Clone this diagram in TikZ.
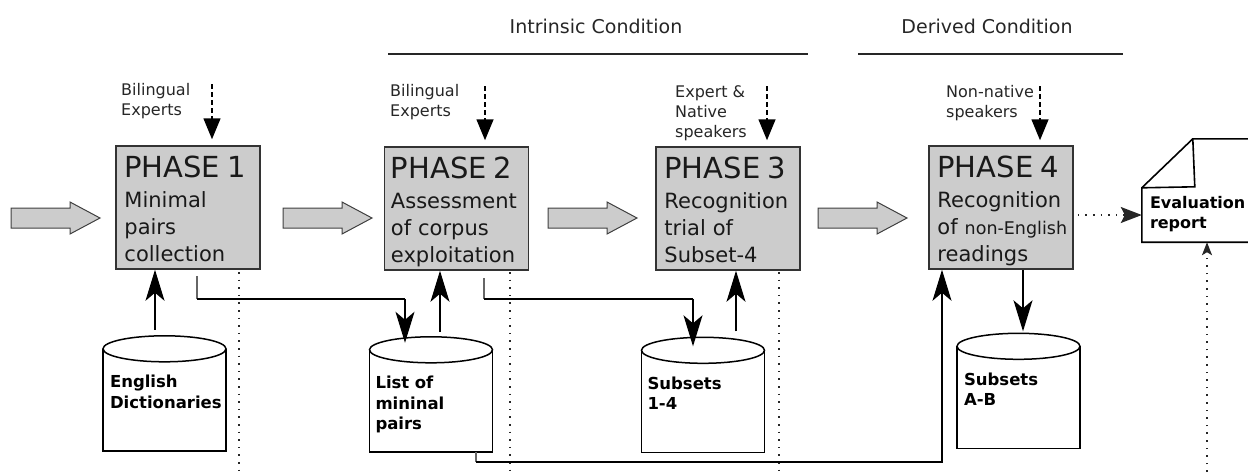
\documentclass[tikz,border=0pt]{standalone}
\usepackage{fontspec}
\setmainfont{DejaVu Sans}
\usetikzlibrary{arrows.meta,positioning}

\tikzset{
  phasebox/.style={draw=black!80, fill=black!20, line width=1.5pt,
    minimum width=144pt, minimum height=123pt, inner sep=0pt},
  phasetext/.style={anchor=north west, inner sep=0pt, align=left, text width=134pt,
    font=\fontsize{21}{27}\selectfont, text=black!90},
  who/.style={anchor=north west, inner sep=0pt, align=left,
    font=\fontsize{16}{20}\selectfont, text=black!85},
  cond/.style={anchor=base, inner sep=0pt, font=\fontsize{19}{22}\selectfont, text=black!85},
  rule/.style={draw=black!85, line width=1.5pt},
  dbbody/.style={minimum width=123pt, minimum height=102pt, inner sep=0pt},
  dbline/.style={draw=black, line width=1.5pt},
  dbtext/.style={anchor=north west, inner sep=0pt, align=left, text width=118pt,
    font=\fontsize{16.5}{20.5}\selectfont\bfseries},
  blockarrow/.style={draw=black!75, fill=black!20, line width=1pt},
  arr/.style={draw=black, line width=1.5pt, -{Stealth[length=31pt,width=19pt,inset=8pt]}},
  dasharr/.style={draw=black, line width=1.5pt, dash pattern=on 5pt off 3pt,
    -{Stealth[length=21pt,width=17pt,inset=0pt]}},
  dotline/.style={draw=black!85, line width=1.6pt, dash pattern=on 1.6pt off 6pt},
  stub/.style={draw=black!60, line width=1.3pt},
  thickline/.style={draw=black, line width=2.4pt},
  docline/.style={draw=black, line width=1.6pt},
}
\newcommand{\phasehead}[1]{{\fontsize{29}{30}\selectfont #1}}

\begin{document}
\begin{tikzpicture}[x=1pt,y=-1pt]
\useasboundingbox (0,0) rectangle (1248,472);

% conditions on top
\node[cond] (intr) at (596,33) {Intrinsic Condition};
\node[cond] (deriv) at (987,33) {Derived Condition};
\draw[rule] (388,54) -- (808,54);
\draw[rule] (858,54) -- (1123,54);

% block arrows between phases
\foreach \x in {11,283,548,818} {
  \draw[blockarrow] (\x,208) -- ++(59,0) -- ++(0,-6) -- ++(30,16) -- ++(-30,16)
    -- ++(0,-6) -- ++(-59,0) -- cycle;
}

% vertical dotted separators
\foreach \x in {239,510,779} {
  \draw[dotline] (\x,272) -- (\x,472);
}

% phases
\node[phasebox] (p1) at (188,207.5) {};
\node[phasebox] (p2) at (456.5,208.5) {};
\node[phasebox] (p3) at (728,208.5) {};
\node[phasebox] (p4) at (1001,207.5) {};
\node[phasetext] (p1t) at ([xshift=9pt,yshift=-11pt]p1.north west)
  {\phasehead{PHASE 1}\\[3pt]Minimal\\pairs\\collection};
\node[phasetext] (p2t) at ([xshift=7pt,yshift=-11pt]p2.north west)
  {\phasehead{PHASE 2}\\[3pt]Assessment\\of corpus\\exploitation};
\node[phasetext] (p3t) at ([xshift=9pt,yshift=-11pt]p3.north west)
  {\phasehead{PHASE 3}\\[3pt]Recognition\\trial of\\Subset-4};
\node[phasetext] (p4t) at ([xshift=9pt,yshift=-11pt]p4.north west)
  {\phasehead{PHASE 4}\\[3pt]Recognition\\of {\fontsize{17.5}{27}\selectfont non-English}\\readings};

% who takes part
\node[who] (w1) at (121,83) {Bilingual\\Experts};
\node[who] (w2) at (390,84) {Bilingual\\Experts};
\node[who] (w3) at (675,85) {Expert \&\\Native\\speakers};
\node[who] (w4) at (946,85) {Non-native\\speakers};
\draw[dasharr] ([xshift=24pt,yshift=61pt]p1.north) -- ([xshift=24pt,yshift=6pt]p1.north);
\draw[dasharr] ([xshift=28.5pt,yshift=60pt]p2.north) -- ([xshift=28.5pt,yshift=6pt]p2.north);
\draw[dasharr] ([xshift=39pt,yshift=60pt]p3.north) -- ([xshift=39pt,yshift=6pt]p3.north);
\draw[dasharr] ([xshift=39pt,yshift=59pt]p4.north) -- ([xshift=39pt,yshift=5pt]p4.north);

% data stores
\node[dbbody] (dict) at (164.5,400) {};
\node[dbbody] (list) at (431,401) {};
\node[dbbody] (subs) at (703,401.5) {};
\node[dbbody] (subab) at (1018.5,397.5) {};
\foreach \n in {dict,list,subs,subab} {
  \draw[dbline] (\n.north west) -- (\n.south west) -- (\n.south east) -- (\n.north east);
  \draw[dbline, fill=white] (\n.north) ellipse [x radius=61.5pt, y radius=13pt];
}
\node[dbtext] (dictt) at ([xshift=7pt,yshift=-26pt]dict.north west) {English\\Dictionaries};
\node[dbtext] (listt) at ([xshift=6pt,yshift=-26pt]list.north west) {List of\\mininal\\pairs};
\node[dbtext] (subst) at ([xshift=6pt,yshift=-26pt]subs.north west) {Subsets\\1-4};
\node[dbtext] (subabt) at ([xshift=7pt,yshift=-26pt]subab.north west) {Subsets\\A-B};

% evaluation report
\node[minimum width=120pt, minimum height=103pt, inner sep=0pt] (report) at (1202,190.5) {};
\draw[docline, fill=white] (report.south east) -- (report.south west)
  -- ([yshift=-49pt]report.north west) -- ([xshift=51pt]report.north west)
  -- (report.north east);
\draw[docline] ([xshift=51pt]report.north west) -- ([xshift=53pt,yshift=-48pt]report.north west)
  -- ([yshift=-49pt]report.north west);
\node[dbtext, text width=96pt, font=\fontsize{16}{20}\selectfont\bfseries] (rept) at ([xshift=8pt,yshift=-57pt]report.north west)
  {Evaluation\\report};

% data flow
\draw[arr] ([xshift=-9.5pt,yshift=19pt]dict.north) coordinate (d1) -- (d1 |- p1.south);
\draw[stub] ([xshift=9pt,yshift=-6pt]p1.south) -- ++(0,23) coordinate (s1);
\coordinate (l1) at ([xshift=-26pt,yshift=7pt]list.north);
\draw[thickline] (s1) -- (s1 -| l1);
\draw[arr] (s1 -| l1) -- (l1);
\draw[arr] ([xshift=9pt,yshift=18pt]list.north) coordinate (d2) -- (d2 |- p2.south);
\draw[stub] ([xshift=27.5pt,yshift=-7pt]p2.south) -- ++(0,21) coordinate (s2);
\coordinate (l2) at ([xshift=-10pt,yshift=4pt]subs.north);
\draw[thickline] (s2) -- (s2 -| l2);
\draw[arr] (s2 -| l2) -- (l2);
\draw[arr] ([xshift=33pt,yshift=19pt]subs.north) coordinate (d3) -- (d3 |- p3.south);
\draw[stub] ([xshift=45pt]list.south) -- ++(0,10) coordinate (s3);
\draw[arr] (s3) -| ([xshift=-59pt]p4.south);
\draw[arr] ([xshift=22pt]p4.south) -- ([xshift=4.5pt,yshift=15pt]subab.north);

% towards the report
\draw[dotline, -{Stealth[length=21pt,width=16pt,inset=4pt]}]
  ([xshift=4pt,yshift=-7.5pt]p4.east) coordinate (e1) -- (e1 -| report.west);
\coordinate (rb) at (1207,472);
\draw[dotline, -{Stealth[length=13pt,width=10pt,inset=3pt]}] (rb) -- (rb |- report.south);
\end{tikzpicture}
\end{document}
